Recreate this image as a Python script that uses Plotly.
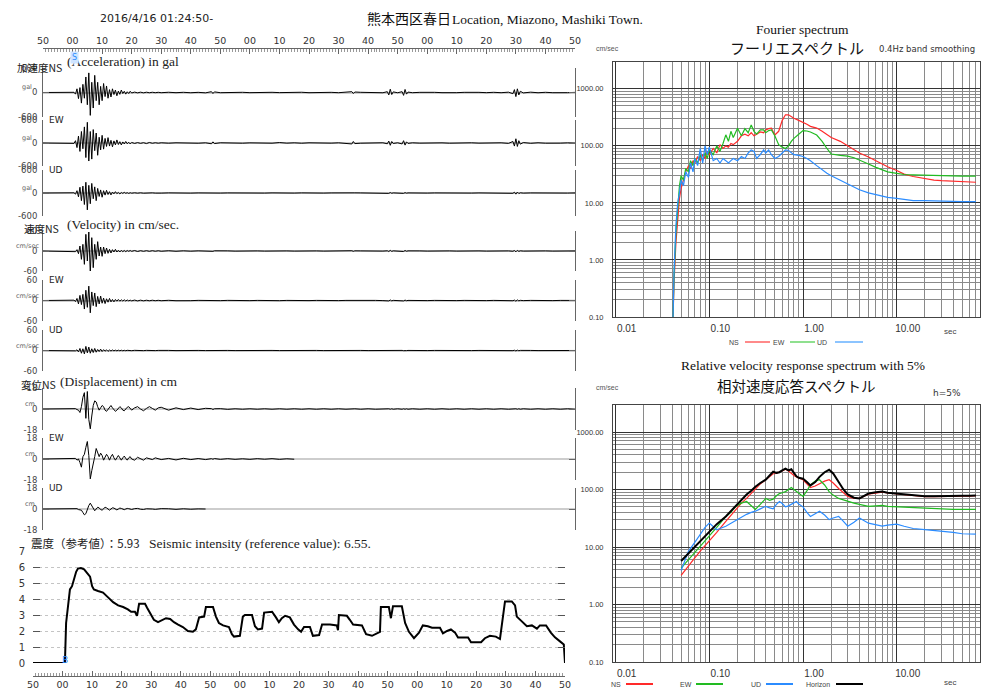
import plotly.graph_objects as go

# ------------------------------------------------------------------ data
TIME_TICK_SECONDS = [0, 10, 20, 30, 40, 50, 60, 70, 80, 90, 100, 110, 120, 130, 140, 150, 160, 170, 180]
TIME_TICK_LABELS = ["50", "00", "10", "20", "30", "40", "50", "00", "10", "20", "30", "40",
                    "50", "00", "10", "20", "30", "40", "50"]
TRIGGER_SECONDS = 10.8

# seconds after 01:24:50
T = [0, 5,
     10, 10.5, 11, 11.5, 12, 12.5, 13, 13.5, 14, 14.5,
     15, 15.5, 16, 16.5, 17, 17.5, 18, 18.5, 19, 19.5,
     20, 20.5, 21, 21.5, 22, 22.5, 23, 23.5, 24, 24.5,
     25, 25.5, 26, 26.5, 27, 27.5, 28, 28.5, 29, 29.5, 30,
     31, 32, 33, 34, 35, 36, 37, 38, 39, 40,
     42.5, 45, 47.5, 50, 52.5, 55, 57, 57.5, 58, 60,
     62.5, 65, 67.5, 70, 72.5, 75, 77.5, 80, 82.5, 85,
     87.5, 90, 92.5, 95, 97.5, 100, 102.5, 104.5, 105, 105.5,
     107.5, 110, 112.5, 115, 116.5, 117, 117.5, 118, 118.5, 120,
     121.5, 122, 122.5, 123, 123.5, 125, 127.5, 130, 132.5, 135,
     137.5, 140, 142.5, 145, 147.5, 150, 152.5, 155, 157.5, 159,
     159.5, 160, 160.5, 161, 161.5, 162.5, 165, 167.5, 170, 172.5,
     175, 177.5, 180]

A_NS = [0, 0,
        0, 5, -40, 90, -150, 120, -260, 200, -140, 380,
        -300, 480, -560, 250, -380, 420, -200, 250, -300, 150,
        -200, 220, -100, 160, -140, 70, -110, 90, -50, 60,
        -80, 35, -45, 60, -25, 30, -40, 18, -25, 30, -12,
        10, -9, 8, -8, 7, -6, 6, -5, 5, -5,
        6, -5, 5, -6, 4, -8, 20, -25, 15, -5,
        4, -4, 5, -4, 3, -4, 5, -3, 4, -4,
        6, -5, 4, -3, 4, -5, 6, 20, -25, 12,
        5, -4, 5, -6, 20, -60, 80, -50, 15, -6,
        20, -70, 75, -40, 10, -5, 4, -5, 4, -4,
        5, -4, 4, -5, 4, -4, 5, -5, 8, -30,
        70, -100, 90, -60, 30, -10, 8, -6, 5, -5,
        4, -4, 3]
A_EW = [0, 0,
        0, -10, 60, -120, 180, -220, 300, -150, 420, -380,
        540, -470, 300, -420, 350, -200, 260, -320, 150, -180,
        200, -160, 120, -90, 140, -80, 70, -100, 55, -50,
        80, -40, 35, -50, 28, -25, 40, -20, 18, -25, 14,
        -12, 11, -10, 9, -15, 14, -8, 7, -6, 6,
        -5, 5, -4, 5, -6, 5, -20, 30, -15, 6,
        -4, 4, -5, 4, -3, 4, -5, 12, -4, 5,
        -6, 5, -4, 3, -4, 5, -6, -25, 40, -15,
        -5, 4, -5, 6, -20, 50, -60, 40, -12, 6,
        -25, 60, -55, 30, -10, 5, -4, 5, -4, 4,
        -5, 4, -4, 5, -4, 4, -5, 5, -10, 40,
        -80, 110, -90, 60, -30, 12, -8, 6, -5, 5,
        -4, 4, -3]
A_UD = [0, 0,
        0, 5, -30, 60, -100, 150, -200, 180, -300, 280,
        -440, 200, -280, 250, -150, 160, -200, 120, -90, 80,
        -110, 60, -55, 70, -40, 35, -50, 25, -22, 35,
        -18, 15, -25, 12, -11, 18, -9, 8, -12, 7, -6,
        6, -5, 5, -5, 4, -4, 4, -3, 3, -3,
        3, -2, 2, -3, 2, -3, 5, -8, 4, -2,
        2, -2, 3, -2, 2, -2, 3, -2, 2, -2,
        3, -2, 2, -2, 2, -3, 3, 6, -10, 4,
        2, -2, 3, -2, 5, -10, 12, -8, 3, -2,
        4, -10, 9, -5, 2, -2, 2, -2, 2, -2,
        2, -2, 2, -2, 2, -2, 2, -2, 3, -8,
        20, -30, 25, -15, 6, -3, 2, -2, 2, -2,
        2, -2, 2]
V_NS = [0, 0,
        0, 0, -2, 4, -8, 15, -25, 20, -40, 50,
        -30, 57, -68, 40, -50, 20, -25, 28, -15, 12,
        -16, 12, -8, 9, -7, 5, -6, 4, -3, 5,
        -3, 2, -3, 2, -2, 1.5, -2, 1.5, -1, 1.5, -1,
        1.5, -1.5, 1, -1, 1, -1, 1, -0.8, 0.8, -0.8,
        0.8, -0.8, 0.6, -0.6, 0.5, -0.5, 0.8, -1, 0.6, -0.4,
        0.4, -0.4, 0.4, -0.4, 0.3, -0.3, 0.4, -0.4, 0.3, -0.3,
        0.3, -0.3, 0.3, -0.3, 0.3, -0.3, 0.3, 0.8, -1, 0.5,
        0.3, -0.3, 0.3, -0.3, 0.6, -1.5, 2, -1.2, 0.5, -0.3,
        0.8, -1.5, 1.5, -0.8, 0.4, -0.3, 0.3, -0.3, 0.3, -0.3,
        0.3, -0.3, 0.3, -0.3, 0.3, -0.3, 0.3, -0.3, 0.3, -0.8,
        1.5, -2.5, 2, -1.2, 0.6, -0.3, 0.3, -0.3, 0.3, -0.3,
        0.3, -0.3, 0.2]
V_EW = [0, 0,
        0, 1, -3, 6, -10, 15, -12, 18, -25, 30,
        -20, 42, -36, 25, -15, 22, -18, 12, -10, 13,
        -8, 7, -9, 5, -5, 6, -4, 3, -4, 3,
        -2, 3, -2, 2, -1.5, 2, -1.5, 1.5, -1, 1, -1,
        1.2, -1.2, 1, -1, 0.8, -0.8, 0.8, -0.6, 0.6, -0.6,
        0.6, -0.6, 0.5, -0.5, 0.4, -0.4, 0.6, -0.8, 0.5, -0.4,
        0.4, -0.3, 0.3, -0.4, 0.3, -0.3, 0.4, -0.5, 0.3, -0.3,
        0.3, -0.3, 0.3, -0.3, 0.3, -0.3, 0.3, 0.7, -0.9, 0.4,
        0.3, -0.3, 0.3, -0.3, 0.5, -1.2, 1.5, -1, 0.4, -0.3,
        0.6, -1.2, 1.2, -0.6, 0.3, -0.3, 0.3, -0.3, 0.3, -0.3,
        0.3, -0.3, 0.3, -0.3, 0.3, -0.3, 0.3, -0.3, 0.3, -0.6,
        1.2, -2, 1.6, -1, 0.5, -0.3, 0.3, -0.3, 0.3, -0.3,
        0.3, -0.3, 0.2]
V_UD = [0, 0,
        0, 0.5, -1, 2, -4, 6, -8, 5, -10, 12,
        -7, 10, -8, 5, -6, 6, -5, 3, -3, 4,
        -3, 2.5, -2, 2, -2.5, 1.5, -1.5, 1.5, -1, 1,
        -1, 1, -0.8, 0.8, -0.8, 0.6, -0.6, 0.6, -0.5, 0.5, -0.5,
        0.5, -0.5, 0.4, -0.4, 0.4, -0.4, 0.3, -0.3, 0.3, -0.3,
        0.3, -0.3, 0.3, -0.3, 0.2, -0.2, 0.3, -0.4, 0.2, -0.2,
        0.2, -0.2, 0.2, -0.2, 0.2, -0.2, 0.2, -0.2, 0.2, -0.2,
        0.2, -0.2, 0.2, -0.2, 0.2, -0.2, 0.2, 0.3, -0.4, 0.2,
        0.2, -0.2, 0.2, -0.2, 0.3, -0.5, 0.6, -0.4, 0.2, -0.2,
        0.3, -0.5, 0.5, -0.3, 0.2, -0.2, 0.2, -0.2, 0.2, -0.2,
        0.2, -0.2, 0.2, -0.2, 0.2, -0.2, 0.2, -0.2, 0.2, -0.4,
        0.8, -1.2, 1, -0.6, 0.3, -0.2, 0.2, -0.2, 0.2, -0.2,
        0.2, -0.2, 0.1]
D_NS = [0, 0,
        0, 0, 0.3, -0.5, -1, -3, 2, 10, 14, -8,
        15, -9, -17, -6, 3, 7, 6, 2, -1, 1,
        3, 2, -1, -2, 0, 2, 3, 1, -1, -2,
        -1, 1, 2, 1, -1, -1.5, 0, 1.5, 2, 0.5, -1,
        1, 2, 0, -1.5, 0.5, 2, 0.5, -1, 1, 1.5,
        -1, 1, -0.5, 0.8, -0.5, 0.6, 0.3, -0.4, 0.2, 0.3,
        -0.3, 0.2, -0.2, 0.2, -0.2, 0.2, -0.2, 0.2, -0.2, 0.2,
        -0.2, 0.2, -0.2, 0.2, -0.2, 0.2, -0.2, 0.2, -0.2, 0.2,
        -0.2, 0.2, -0.2, 0.2, -0.2, 0.2, -0.2, 0.2, -0.2, 0.2,
        -0.2, 0.2, -0.2, 0.2, -0.2, 0.2, -0.2, 0.2, -0.2, 0.2,
        -0.2, 0.2, -0.2, 0.2, -0.2, 0.2, -0.2, 0.2, -0.2, 0.2,
        -0.2, 0.2, -0.2, 0.2, -0.2, 0.2, -0.2, 0.2, -0.2, 0.2,
        -0.2, 0.2, -0.2]
D_EW = [0, 0,
        0, 0, 0.5, -1, 0, -3, -7, 2, 4, 10,
        15, 3, -17, -10, -2, 2, 9, 6, 2, 5,
        3, -1, 1, 4, 2, -1, 2, 4, 1, -1,
        1, 3, 1, -1, 1, 2.5, 0.5, -1, 1, 2, 0,
        -1, 1.5, 0, -1, 1, 0.5, -0.5, 1, 0, -0.5,
        0.5, -0.8, 0.6, -0.5, 0.4, -0.5, 0.3, -0.2, 0.4, -0.3,
        0.3, -0.3, 0.2, -0.3, 0.3, -0.2, 0.3, -0.3, 0.2, -0.2,
        None, None, None, None, None, None, None, None, None, None,
        None, None, None, None, None, None, None, None, None, None,
        None, None, None, None, None, None, None, None, None, None,
        None, None, None, None, None, None, None, None, None, None,
        None, None, None, None, None, None, None, None, None, None,
        None, None, None]
D_UD = [0, 0,
        0, 0, 0, 0.3, -0.5, -0.5, -1, -3, -5, -4,
        0, 3, 5, 3, 0, -1.5, 0, 1.5, 1, -0.5,
        -1, 0.5, 1.5, 1, 0, -1, 0, 1, 0.8, -0.3,
        -0.8, 0, 0.8, 0.5, -0.3, -0.6, 0, 0.5, 0.3, -0.3, -0.4,
        0.3, 0.5, -0.2, -0.4, 0.2, 0.4, 0, -0.3, 0.2, 0.3,
        0.2, -0.3, 0.2, -0.2, 0.1, 0, None, None, None, None,
        None, None, None, None, None, None, None, None, None, None,
        None, None, None, None, None, None, None, None, None, None,
        None, None, None, None, None, None, None, None, None, None,
        None, None, None, None, None, None, None, None, None, None,
        None, None, None, None, None, None, None, None, None, None,
        None, None, None, None, None, None, None, None, None, None,
        None, None, None]

# seismic intensity (running)
I_T = [0, 10.8, 11.2, 11.5, 11.8, 12.5, 13.2, 13.9, 14.6, 15.2, 16.2, 17.3, 18.3, 19.3, 20.0, 20.6,
       22.0, 23.7, 25.4, 27.1, 28.8, 30.5, 32.1, 33.2, 34.5, 35.2, 35.9, 37.9, 38.6, 39.6, 40.9,
       42.3, 43.6, 45.0, 46.4, 47.7, 49.1, 50.7, 52.4, 54.1, 55.1, 56.2, 57.9, 58.5, 60.9, 61.9,
       62.9, 64.3, 66.3, 67.3, 68.0, 70.0, 71.0, 71.7, 74.1, 75.1, 76.1, 77.5, 78.2, 80.9, 82.2,
       83.2, 84.2, 85.3, 86.9, 88.3, 89.7, 90.7, 91.7, 93.7, 94.7, 96.8, 97.8, 100.5, 102.8, 103.2,
       103.5, 106.2, 107.2, 108.3, 111.3, 112.7, 114.7, 116.7, 117.4, 117.7, 120.4, 121.1, 121.8,
       124.8, 125.9, 127.2, 128.9, 130.6, 131.9, 133.6, 135.0, 137.7, 138.7, 140.1, 141.4, 142.8,
       143.8, 147.2, 148.2, 151.6, 152.9, 154.6, 156.6, 158.0, 159.0, 159.7, 162.0, 163.1, 163.7,
       165.8, 167.1, 168.8, 170.5, 171.5, 173.6, 175.2, 176.6, 178.3, 179.6, 180.0]
I_V = [0, 0, 2.5, 3.0, 3.4, 4.6, 4.8, 5.3, 5.7, 5.9, 5.93, 5.85, 5.6, 5.4, 4.8, 4.6,
       4.5, 4.4, 4.1, 3.8, 3.6, 3.5, 3.35, 3.2, 3.2, 2.95, 3.7, 3.7, 3.45, 3.1, 2.7,
       2.55, 2.65, 2.8, 2.75, 2.55, 2.4, 2.25, 2.0, 1.95, 2.1, 2.85, 2.9, 3.5, 3.5, 2.9,
       2.5, 2.35, 2.25, 1.8, 1.65, 1.7, 2.9, 3.0, 3.0, 2.3, 2.1, 2.15, 3.15, 3.2, 2.85,
       2.55, 2.8, 2.95, 2.85, 2.4, 2.1, 1.95, 2.25, 2.25, 1.7, 1.75, 2.4, 2.4, 2.35, 2.05,
       3.0, 2.95, 2.7, 2.4, 2.35, 1.8, 1.7, 1.85, 1.95, 3.5, 3.5, 2.8, 3.55,
       3.55, 2.5, 1.95, 1.55, 1.9, 2.35, 2.3, 2.2, 2.2, 1.85, 2.0, 2.1, 1.9,
       1.6, 1.6, 1.3, 1.3, 1.55, 1.7, 1.65, 1.5, 2.9, 3.85, 3.85, 3.6, 2.9,
       2.5, 2.3, 2.35, 2.15, 2.35, 2.35, 1.9, 1.6, 1.35, 1.15, 0]

# Fourier spectrum (period sec, cm/sec)
F_PERIOD = [0.041, 0.042, 0.044, 0.046, 0.048, 0.05, 0.053, 0.056, 0.06, 0.063,
            0.067, 0.07, 0.075, 0.08, 0.085, 0.09, 0.095, 0.1, 0.11, 0.12,
            0.13, 0.14, 0.15, 0.16, 0.17, 0.18, 0.2, 0.22, 0.24, 0.26,
            0.28, 0.3, 0.32, 0.35, 0.38, 0.4, 0.43, 0.46, 0.5, 0.55,
            0.6, 0.65, 0.7, 0.75, 0.8, 0.9, 1.0, 1.1, 1.2, 1.4,
            1.6, 1.8, 2.0, 2.5, 3.0, 3.5, 4, 5, 6, 7,
            8, 10, 12, 15, 20, 25, 30, 40, 50, 60, 70]
F_NS = [0.1, 0.4, 2, 6, 12, 18, 25, 35, 45, 40,
        55, 50, 65, 55, 70, 60, 80, 70, 90, 75,
        105, 90, 100, 95, 110, 105, 120, 150, 160, 150,
        170, 150, 160, 175, 170, 190, 200, 205, 155, 180,
        280, 350, 350, 320, 305, 280, 260, 240, 220, 205,
        180, 155, 140, 120, 100, 85, 75, 64, 55, 48,
        43, 37, 32, 29, 26.5, 25, 24.5, 24, 23.5, 23, 23]
F_EW = [0.1, 0.5, 3, 8, 20, 30, 25, 40, 35, 55,
        45, 60, 50, 70, 55, 75, 60, 85, 70, 100,
        80, 110, 156, 120, 180, 140, 204, 150, 200, 170,
        233, 180, 160, 190, 190, 170, 185, 190, 150, 105,
        95, 90, 100, 120, 135, 160, 185, 182, 175, 155,
        120, 90, 72, 68, 66, 62, 57, 48, 42, 38,
        35, 33, 31.5, 31, 30.5, 30, 30, 30, 29.5, 29.5, 29.5]
F_UD = [0.1, 0.6, 4, 10, 15, 25, 20, 35, 28, 50,
        35, 60, 45, 90, 50, 100, 70, 95, 55, 60,
        50, 60, 55, 50, 55, 60, 55, 65, 60, 75,
        85, 80, 60, 70, 85, 75, 85, 70, 60, 65,
        75, 85, 83, 75, 70, 68, 65, 60, 55, 45,
        38, 33, 30, 25, 21, 19, 17, 15, 14, 13,
        12.5, 12, 11.5, 11, 11, 10.8, 10.7, 10.6, 10.5, 10.5, 10.5]

# relative velocity response spectrum h=5% (period sec, cm/sec)
R_PERIOD = [0.05, 0.06, 0.07, 0.08, 0.09, 0.1, 0.12, 0.15, 0.17, 0.19,
            0.22, 0.25, 0.28, 0.31, 0.35, 0.4, 0.44, 0.48, 0.52, 0.56,
            0.6, 0.65, 0.7, 0.75, 0.8, 0.85, 0.9, 1.0, 1.1, 1.2,
            1.35, 1.5, 1.7, 1.9, 2.1, 2.4, 2.7, 3.0, 3.5, 4,
            5, 6, 7, 8, 10, 12, 15, 20, 25, 30,
            40, 50, 60, 70]
R_NS = [3.2, 4.8, 6.5, 8.5, 10.5, 12.6, 18, 28, 36, 45,
        58, 70, 85, 104, 125, 148, 170, 188, 190, 204,
        210, 225, 210, 188, 175, 166, 158, 148, 125, 108,
        115, 126, 140, 148, 130, 104, 88, 76, 70, 70,
        83, 88, 90, 87, 84, 81, 78, 75, 75, 76,
        77, 77, 77, 78]
R_EW = [4.3, 6, 8, 10.4, 13, 15.5, 22, 34, 40, 50,
        58, 62, 52, 45, 55, 70, 65, 68, 78, 85,
        88, 92, 100, 108, 100, 92, 85, 76, 95, 120,
        140, 148, 120, 92, 80, 70, 66, 62, 58, 55,
        51, 52, 53, 51, 50, 49, 48, 47, 46, 45,
        45, 45, 45, 45]
R_UD = [3.9, 8.5, 12, 16.7, 22, 26, 20, 23, 26, 28,
        33, 37, 40, 42, 46, 51, 48, 46, 55, 62,
        57, 50, 52, 55, 58, 62, 56, 50, 40, 34,
        38, 42, 36, 30, 32, 34, 28, 23, 27, 32,
        26, 24, 23, 24, 25, 23, 21, 20, 19.5, 19,
        18, 17, 17, 16.8]
R_HORIZON = [5.7, 7.8, 10, 12.6, 15.5, 19, 25, 34, 42, 51,
             65, 82, 95, 112, 130, 148, 175, 204, 195, 200,
             215, 230, 215, 225, 195, 170, 160, 154, 135, 118,
             135, 166, 200, 220, 190, 137, 100, 82, 72, 70,
             85, 90, 92, 88, 85, 82, 79, 76, 76, 77,
             78, 78, 78, 79]

LOG_X_MAJOR = [0.01, 0.1, 1, 10]
LOG_X_LABELS = ["0.01", "0.10", "1.00", "10.00"]
LOG_X_MINOR = [0.02, 0.03, 0.04, 0.05, 0.06, 0.07, 0.08, 0.09,
               0.2, 0.3, 0.4, 0.5, 0.6, 0.7, 0.8, 0.9,
               2, 3, 4, 5, 6, 7, 8, 9,
               20, 30, 40, 50, 60, 70]
LOG_Y_MAJOR = [0.1, 1, 10, 100, 1000]
LOG_Y_LABELS = ["0.10", "1.00", "10.00", "100.00", "1000.00"]
LOG_Y_MINOR = [0.2, 0.3, 0.4, 0.5, 0.6, 0.7, 0.8, 0.9,
               2, 3, 4, 5, 6, 7, 8, 9,
               20, 30, 40, 50, 60, 70, 80, 90,
               200, 300, 400, 500, 600, 700, 800, 900]

# ------------------------------------------------------------------ layout helpers
W, H = 982, 689


def fx(p):
    return p / W


def fy(p):
    return 1 - p / H


SANS = "DejaVu Sans"
SERIF = "Liberation Serif"
CJK = "Noto Sans CJK JP"
ARIAL = "Liberation Sans"
RED, GREEN, BLUE = "#ff2a2a", "#22bb22", "#2b8cff"

fig = go.Figure()
lay = dict(template="none", width=W, height=H, margin=dict(l=0, r=0, t=0, b=0, pad=0),
           paper_bgcolor="white", plot_bgcolor="white", showlegend=False,
           font=dict(family=SANS, size=10, color="#333"))
ann = []
shapes = []


def text(x, y, s, size=10, family=SANS, color="#222", xanchor="left", yanchor="middle", **kw):
    ann.append(dict(x=fx(x), y=fy(y), xref="paper", yref="paper", text=s, showarrow=False,
                    xanchor=xanchor, yanchor=yanchor,
                    font=dict(size=size, family=family, color=color), **kw))


# ------------------------------------------------------------------ waveform panels
ROWS = [  # data, max, unit, top px, bottom px, component label
    (A_NS, 600, "gal", 68, 117, None),
    (A_EW, 600, "gal", 120, 166, "EW"),
    (A_UD, 600, "gal", 170, 216, "UD"),
    (V_NS, 60, "cm/sec", 231, 271, None),
    (V_EW, 60, "cm/sec", 280, 321, "EW"),
    (V_UD, 60, "cm/sec", 330, 371, "UD"),
    (D_NS, 18, "cm", 388, 430, None),
    (D_EW, 18, "cm", 438, 480, "EW"),
    (D_UD, 18, "cm", 488, 530, "UD"),
]

for i, (vals, m, unit, top, bot, comp) in enumerate(ROWS, start=1):
    xs = "x" if i == 1 else f"x{i}"
    ys = "y" if i == 1 else f"y{i}"
    fig.add_trace(go.Scatter(x=T, y=vals, xaxis=xs, yaxis=ys, mode="lines",
                             line=dict(color="#000", width=1), hoverinfo="skip",
                             connectgaps=False))
    xa = dict(domain=[fx(43), fx(575)], range=[0, 180], showgrid=False, zeroline=False,
              automargin=False)
    if i == 1:
        xa.update(anchor="free", position=fy(48), side="top", showline=True,
                  linecolor="#666", linewidth=1, ticks="inside", ticklen=5, tickcolor="#666",
                  tickmode="array", tickvals=TIME_TICK_SECONDS, ticktext=TIME_TICK_LABELS,
                  tickfont=dict(size=9.5, color="#333", family=SANS),
                  minor=dict(ticks="inside", dtick=1, ticklen=3, tickcolor="#999",
                             showgrid=False))
    else:
        xa.update(anchor=ys, matches="x", visible=False)
    lay["xaxis" if i == 1 else f"xaxis{i}"] = xa
    lay["yaxis" if i == 1 else f"yaxis{i}"] = dict(
        domain=[fy(bot), fy(top)], range=[-m, m], anchor=xs, automargin=False,
        tickmode="array", tickvals=[-m, 0, m], ticktext=[f"-{m}", "0", f"{m}"],
        tickfont=dict(size=8.5, color="#444", family=SANS), ticklabelstandoff=3,
        showgrid=True, gridcolor="#bdbdbd", griddash="dot", gridwidth=1,
        zeroline=True, zerolinecolor="#cdcdcd", zerolinewidth=2,
        showline=True, linecolor="#666", linewidth=1, mirror="ticks",
        ticks="inside", ticklen=6, tickcolor="#666")
    zero_px = (top + bot) / 2
    text(27 if unit != "cm" else 30, zero_px - 5, unit, size=6.5, color="#666",
         xanchor="center")
    if comp:
        text(47, top, comp, size=9, color="#222")

# panel titles
text(64, 68, "加速度NS", size=10.5, family=CJK, xanchor="right")
text(65, 62, "(Acceleration) in gal", size=13.5, family=SERIF)
text(61, 228, "速度NS", size=10.5, family=CJK, xanchor="right")
text(65, 224, "(Velocity) in cm/sec.", size=13.5, family=SERIF)
text(58, 384, "変位NS", size=10.5, family=CJK, xanchor="right")
text(58, 381, "(Displacement) in cm", size=13.5, family=SERIF)

# ------------------------------------------------------------------ intensity panel
fig.add_trace(go.Scatter(x=I_T, y=I_V, xaxis="x10", yaxis="y10", mode="lines",
                         line=dict(color="#000", width=2), hoverinfo="skip"))
lay["xaxis10"] = dict(domain=[fx(33), fx(565)], range=[0, 180], anchor="free",
                      position=fy(676), side="bottom", showline=True, linecolor="#666",
                      ticks="inside", ticklen=5, tickcolor="#666", showgrid=False,
                      zeroline=False, tickmode="array", tickvals=TIME_TICK_SECONDS,
                      ticktext=TIME_TICK_LABELS, automargin=False,
                      tickfont=dict(size=9.5, color="#333", family=SANS),
                      minor=dict(ticks="inside", dtick=1, ticklen=3, tickcolor="#999",
                                 showgrid=False))
lay["yaxis10"] = dict(domain=[fy(663), fy(551)], range=[0, 7], anchor="x10",
                      tickmode="array", tickvals=[0, 1, 2, 3, 4, 5, 6, 7], automargin=False,
                      ticks="inside", ticklen=7, tickcolor="#555", mirror="ticks",
                      showline=False, showgrid=True, gridcolor="#c4c4c4", griddash="dot",
                      zeroline=False, ticklabelstandoff=7,
                      tickfont=dict(size=10, color="#333", family=SANS))
ann.append(dict(x=fx(29), y=fy(543), xref="paper", yref="paper", showarrow=False,
                xanchor="left", yanchor="middle",
                text="震度（参考値）：5.93",
                font=dict(size=11.5, family=CJK, color="#222")))
text(147, 543, "Seismic intensity (reference value): 6.55.", size=13.5, family=SERIF)

# trigger markers
ann.append(dict(x=TRIGGER_SECONDS, y=fy(51), xref="x", yref="paper", text="S",
                showarrow=False, font=dict(size=8, color="#2b8cff", family=SANS),
                bgcolor="#cfe4ff"))
ann.append(dict(x=TRIGGER_SECONDS, y=fy(667), xref="x10", yref="paper", text="B",
                showarrow=False, font=dict(size=9, color="#2b8cff", family=SANS)))

# ------------------------------------------------------------------ header
text(156, 18, "2016/4/16 01:24:50-", size=11, xanchor="center")
text(452, 18, "熊本西区春日", size=14, family=CJK, xanchor="right", color="#111", borderpad=0)
text(451, 19, "Location, Miazono, Mashiki Town.", size=13.5, family=SERIF, color="#111",
     borderpad=0)

# ------------------------------------------------------------------ spectra
SPEC = [
    ("x11", "y11", 62, 317, [(F_PERIOD, F_NS, RED, 1.2), (F_PERIOD, F_EW, GREEN, 1.2),
                              (F_PERIOD, F_UD, BLUE, 1.2)]),
    ("x12", "y12", 405, 662, [(R_PERIOD, R_NS, RED, 1.2), (R_PERIOD, R_EW, GREEN, 1.2),
                               (R_PERIOD, R_UD, BLUE, 1.2), (R_PERIOD, R_HORIZON, "#000", 2)]),
]
for xs, ys, top, bot, series in SPEC:
    for px_, py_, col, w in series:
        fig.add_trace(go.Scatter(x=px_, y=py_, xaxis=xs, yaxis=ys, mode="lines",
                                 line=dict(color=col, width=w), hoverinfo="skip"))
    lay["xaxis" + xs[1:]] = dict(
        type="log", domain=[fx(613), fx(980)], range=[-2.028, 1.889], anchor=ys,
        automargin=False,
        tickmode="array", tickvals=LOG_X_MAJOR, ticktext=LOG_X_LABELS, ticks="",
        showgrid=True, gridcolor="#333", gridwidth=1, zeroline=False,
        minor=dict(tickmode="array", tickvals=LOG_X_MINOR, showgrid=True,
                   gridcolor="#8a8a8a", gridwidth=1, ticks=""),
        showline=True, mirror=True, linecolor="#444", linewidth=1,
        tickfont=dict(family=ARIAL, size=10, color="#333"),
        ticklabelshift=11, ticklabelstandoff=2)
    lay["yaxis" + ys[1:]] = dict(
        type="log", domain=[fy(bot), fy(top)], range=[-1, 3.47], anchor=xs,
        automargin=False,
        tickmode="array", tickvals=LOG_Y_MAJOR, ticktext=LOG_Y_LABELS, ticks="",
        showgrid=True, gridcolor="#333", gridwidth=1, zeroline=False,
        minor=dict(tickmode="array", tickvals=LOG_Y_MINOR, showgrid=True,
                   gridcolor="#8a8a8a", gridwidth=1, ticks=""),
        showline=True, mirror=True, linecolor="#444", linewidth=1,
        tickfont=dict(family=ARIAL, size=7.5, color="#333"), ticklabelstandoff=7)

# spectra titles and units
text(802, 30, "Fourier spectrum", size=13.5, family=SERIF, xanchor="center", color="#111")
text(797, 47, "フーリエスペクトル", size=15, family=CJK, xanchor="center", color="#111")
text(877, 49, "0.4Hz band smoothing", size=8.5, color="#333")
text(607, 49, "cm/sec", size=7, family=ARIAL, color="#555", xanchor="center")
text(950, 331, "sec", size=8, family=ARIAL, color="#444", xanchor="center")
text(803, 365, "Relative velocity response spectrum with 5%", size=13.5, family=SERIF,
     xanchor="center", color="#111")
text(796, 385, "相対速度応答スペクトル", size=14.5, family=CJK, xanchor="center", color="#111")
text(947, 393, "h=5%", size=9, color="#333", xanchor="center")
text(607, 387, "cm/sec", size=7, family=ARIAL, color="#555", xanchor="center")
text(950, 682, "sec", size=8, family=ARIAL, color="#444", xanchor="center")

# legends
LEG_F = [("NS", 734, 745, 770, "#ff8a8a"), ("EW", 779, 790, 815, "#8fe08f"),
         ("UD", 822, 835, 863, "#8cc4ff")]
for name, tx, x0, x1, col in LEG_F:
    text(tx, 342, name, size=7, family=ARIAL, color="#444", xanchor="center")
    shapes.append(dict(type="line", xref="paper", yref="paper", x0=fx(x0), x1=fx(x1),
                       y0=fy(342), y1=fy(342), line=dict(color=col, width=2)))
LEG_R = [("NS", 616, 626, 653, RED), ("EW", 686, 696, 723, GREEN),
         ("UD", 756, 766, 793, BLUE), ("Horizon", 818, 836, 863, "#000")]
for name, tx, x0, x1, col in LEG_R:
    text(tx, 684, name, size=7, family=ARIAL, color="#444", xanchor="center")
    shapes.append(dict(type="line", xref="paper", yref="paper", x0=fx(x0), x1=fx(x1),
                       y0=fy(684), y1=fy(684), line=dict(color=col, width=2)))

lay["annotations"] = ann
lay["shapes"] = shapes
fig.update_layout(**lay)
fig.write_html("out.html", config={"displayModeBar": False, "staticPlot": True},
               post_script="document.body.style.margin='0px';document.body.style.overflow='hidden';")
